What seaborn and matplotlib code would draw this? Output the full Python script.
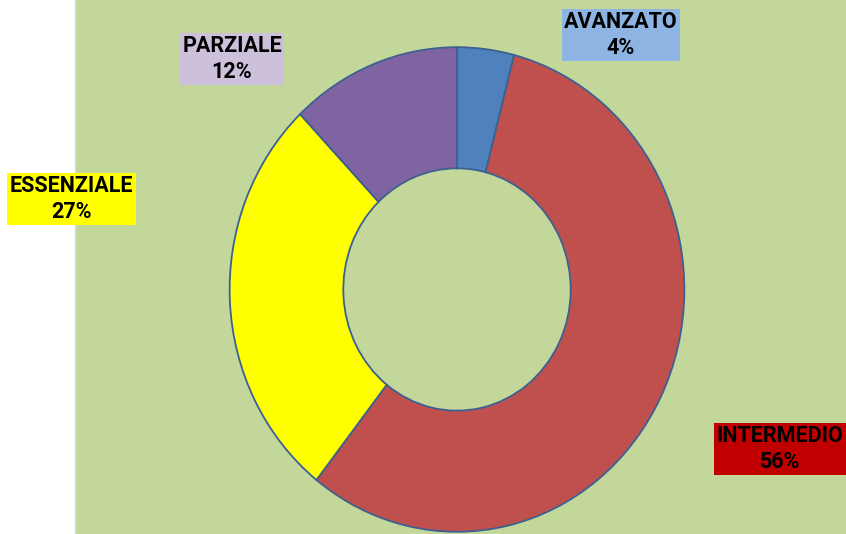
import matplotlib
matplotlib.use("Agg")
import matplotlib.pyplot as plt
from matplotlib.patches import Rectangle
import seaborn as sns

livelli = ["AVANZATO", "INTERMEDIO", "ESSENZIALE", "PARZIALE"]
percentuali = [4, 56, 27, 12]
colori = ["#4F81BD", "#C0504D", "#FFFF00", "#8064A2"]
colori_etichette = ["#8DB4E2", "#C00000", "#FFFF00", "#CCC0DA"]

sns.set_style("white")
plt.rcParams['font.family'] = ['Roboto', 'DejaVu Sans']

W, H = 846, 534
fig = plt.figure(figsize=(W / 100, H / 100), dpi=100)
fig.patch.set_facecolor("white")
fig.patches.append(Rectangle((75 / W, 0), 1 - 75 / W, 1, transform=fig.transFigure,
                             facecolor="#C4D79B", edgecolor="none", zorder=-1))
fig.add_artist(plt.Line2D([75 / W, 75 / W], [0, 1], color="#D9D9D9", lw=1, zorder=-0.5))

# donut area (slightly taller than wide, as in the original)
cx, cy, rx, ry = 457, 289.5, 228.5, 243.5
ax = fig.add_axes([(cx - rx) / W, (H - cy - ry) / H, 2 * rx / W, 2 * ry / H])
ax.set_facecolor("none")
ax.pie(percentuali, colors=colori, startangle=90, counterclock=False,
       wedgeprops=dict(width=0.5, edgecolor="#3C6190", linewidth=1.3))
ax.set_aspect("auto")
ax.set_xlim(-1.005, 1.005)
ax.set_ylim(-1.005, 1.005)
ax.axis("off")

# label boxes (pixel centres from the reference)
pos_etichette = [(621, 35), (780, 449), (71.5, 199), (232, 59)]
for nome, p, col, (x, y) in zip(livelli, percentuali, colori_etichette, pos_etichette):
    fig.text(x / W, 1 - y / H, f"{nome}\n{p}%", ha="center", va="center",
             fontsize=15.5, fontweight="bold", color="black", linespacing=1.2,
             bbox=dict(boxstyle="square,pad=0.12", facecolor=col, edgecolor="none"))

fig.savefig("out.png", dpi=100)
